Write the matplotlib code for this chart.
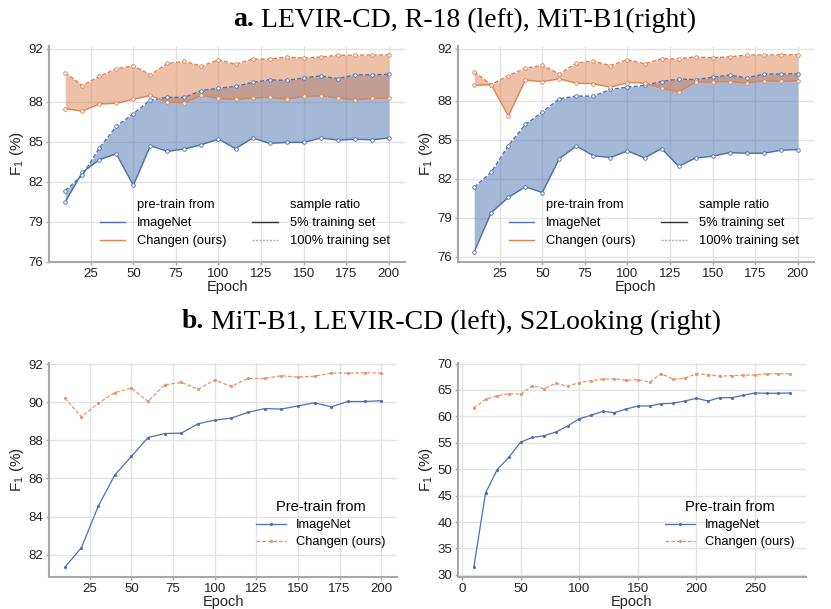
import matplotlib
matplotlib.use("Agg")
import matplotlib.pyplot as plt
from matplotlib.lines import Line2D
import numpy as np

# ---------------- data ----------------
epochs_levir = list(range(10, 201, 10))
epochs_s2 = list(range(10, 281, 10))

# a-left: LEVIR-CD, R-18
al_imagenet_5 = [80.5, 82.72, 83.67, 84.12, 81.75, 84.72, 84.3, 84.48, 84.8, 85.22,
                 84.5, 85.3, 84.9, 84.97, 84.97, 85.3, 85.15, 85.2, 85.17, 85.3]
al_imagenet_100 = [81.35, 82.5, 84.53, 86.17, 87.12, 88.15, 88.35, 88.35, 88.86, 89.04,
                   89.17, 89.47, 89.66, 89.62, 89.8, 89.96, 89.75, 90.04, 90.04, 90.08]
al_changen_5 = [87.5, 87.32, 87.85, 87.9, 88.2, 88.5, 88.0, 87.95, 88.5, 88.27,
                88.2, 88.3, 88.35, 88.22, 88.42, 88.47, 88.3, 88.17, 88.27, 88.3]
al_changen_100 = [90.21, 89.23, 89.92, 90.49, 90.71, 90.05, 90.89, 91.04, 90.69, 91.15,
                  90.83, 91.22, 91.21, 91.37, 91.29, 91.37, 91.51, 91.51, 91.53, 91.53]

# a-right: LEVIR-CD, MiT-B1
ar_imagenet_5 = [76.38, 79.4, 80.56, 81.38, 80.94, 83.55, 84.52, 83.76, 83.63, 84.14,
                 83.6, 84.32, 82.96, 83.6, 83.73, 84.01, 83.96, 83.96, 84.19, 84.24]
ar_imagenet_100 = al_imagenet_100
ar_changen_5 = [89.18, 89.23, 86.83, 89.57, 89.47, 89.67, 89.34, 89.31, 89.03, 89.39,
                89.36, 88.95, 88.67, 89.41, 89.44, 89.47, 89.36, 89.54, 89.49, 89.54]
ar_changen_100 = al_changen_100

# b-left: MiT-B1, LEVIR-CD (100%)
bl_imagenet = [81.34, 82.37, 84.53, 86.18, 87.16, 88.15, 88.36, 88.38, 88.87, 89.06,
               89.17, 89.47, 89.67, 89.64, 89.81, 89.97, 89.76, 90.04, 90.04, 90.08]
bl_changen = [90.22, 89.24, 89.94, 90.51, 90.74, 90.04, 90.92, 91.04, 90.69, 91.16,
              90.83, 91.25, 91.25, 91.39, 91.32, 91.37, 91.53, 91.53, 91.55, 91.53]

# b-right: MiT-B1, S2Looking
br_imagenet = [31.46, 45.5, 49.94, 52.28, 55.13, 56.01, 56.33, 57.03, 58.16, 59.56,
               60.19, 60.95, 60.7, 61.39, 61.96, 61.96, 62.41, 62.47, 62.91, 63.42,
               62.91, 63.54, 63.54, 63.99, 64.43, 64.37, 64.37, 64.43]
br_changen = [61.58, 63.23, 63.92, 64.3, 64.18, 65.82, 65.25, 66.27, 65.7, 66.39,
              66.71, 67.09, 67.09, 66.84, 66.96, 66.46, 68.1, 67.03, 67.22, 68.04,
              67.91, 67.6, 67.72, 67.78, 67.85, 68.04, 68.1, 68.04]

top_yticks = [76, 79, 82, 85, 88, 92]
top_xticks = [25, 50, 75, 100, 125, 150, 175, 200]
bl_yticks = [82, 84, 86, 88, 90, 92]
br_yticks = [30, 35, 40, 45, 50, 55, 60, 65, 70]
br_xticks = [0, 50, 100, 150, 200, 250]

series_names = ["ImageNet", "Changen (ours)"]
ratio_names = ["5% training set", "100% training set"]

# ---------------- style ----------------
BLUE = "#4c72b0"
ORANGE = "#dd8452"
plt.rcParams["font.family"] = ["Liberation Sans", "DejaVu Sans"]
plt.rcParams["mathtext.default"] = "regular"

fig = plt.figure(figsize=(8.31, 6.09), dpi=100)

W, H = 831.0, 609.0
def add_ax(l, t, r, b):
    return fig.add_axes([l / W, 1 - b / H, (r - l) / W, (b - t) / H])

ax_tl = add_ax(49, 46, 405, 262)
ax_tr = add_ax(458, 46, 814, 262)
ax_bl = add_ax(49, 363, 397, 577)
ax_br = add_ax(458, 363, 806, 577)


def style_ax(ax):
    ax.set_facecolor("white")
    ax.grid(True, color="#e3e3e3", lw=1.0)
    ax.set_axisbelow(True)
    for s in ["top", "right"]:
        ax.spines[s].set_visible(False)
    for s in ["left", "bottom"]:
        ax.spines[s].set_color("#a8a8a8")
        ax.spines[s].set_linewidth(1.5)
    ax.tick_params(axis="both", labelsize=9.5, colors="#a8a8a8", labelcolor="#222222",
                   length=2.5, width=1, pad=1.5)
    ax.set_xlabel("Epoch", fontsize=10.5, color="#222222", labelpad=0)
    ax.set_ylabel("F$_1$ (%)", fontsize=11, color="#222222", labelpad=2)


def top_panel(ax, im5, im100, ch5, ch100):
    x = np.array(epochs_levir)
    ax.fill_between(x, im5, im100, color=BLUE, alpha=0.5, lw=0)
    ax.fill_between(x, ch5, ch100, color=ORANGE, alpha=0.5, lw=0)
    for y, c, ls in [(im5, BLUE, "-"), (im100, BLUE, (0, (3, 1.5))),
                     (ch5, ORANGE, "-"), (ch100, ORANGE, (0, (3, 1.5)))]:
        ax.plot(x, y, color=c, lw=1.0, ls=ls, marker="o", ms=2.6,
                mfc="#f4f4f4", mec=c, mew=0.6)
    style_ax(ax)
    ax.set_xlim(0.5, 209.5)
    ax.set_xticks(top_xticks)
    ax.set_yticks(top_yticks)
    blank = Line2D([], [], color="none")
    handles = [blank,
               Line2D([], [], color=BLUE, lw=1.0),
               Line2D([], [], color=ORANGE, lw=1.0),
               blank,
               Line2D([], [], color="#333333", lw=1.0),
               Line2D([], [], color="#b0b0b0", lw=1.0, ls=(0, (1.5, 1)))]
    labels = ["pre-train from", series_names[0], series_names[1],
              "sample ratio", ratio_names[0], ratio_names[1]]
    ax.legend(handles, labels, ncol=2, loc="lower right", frameon=False,
              fontsize=9.3, handlelength=2.0, handletextpad=0.9,
              columnspacing=2.0, labelspacing=0.45,
              bbox_to_anchor=(0.99, 0.015))


top_panel(ax_tl, al_imagenet_5, al_imagenet_100, al_changen_5, al_changen_100)
ax_tl.set_ylim(76, 92.2)
top_panel(ax_tr, ar_imagenet_5, ar_imagenet_100, ar_changen_5, ar_changen_100)
ax_tr.set_ylim(75.6, 92.2)


def bottom_panel(ax, x, im, ch):
    ax.plot(x, im, color=BLUE, lw=0.9, ls="-", marker="o", ms=1.3, label=series_names[0])
    ax.plot(x, ch, color="#e8956a", lw=0.9, ls=(0, (3, 1.5)), marker="o", ms=1.3,
            label=series_names[1])
    style_ax(ax)
    ax.legend(loc="lower right", frameon=False, fontsize=9.3,
              title="Pre-train from", title_fontsize=10.5,
              handlelength=2.3, handletextpad=0.8, labelspacing=0.4,
              bbox_to_anchor=(1.0, 0.08))


bottom_panel(ax_bl, epochs_levir, bl_imagenet, bl_changen)
ax_bl.set_xticks(top_xticks)
ax_bl.set_yticks(bl_yticks)
bottom_panel(ax_br, epochs_s2, br_imagenet, br_changen)
ax_br.set_xticks(br_xticks)
ax_br.set_yticks(br_yticks)
ax_br.set_ylim(29.6, 70.1)

# ---------------- titles ----------------
renderer = fig.canvas.get_renderer()


def mixed_title(bold, rest, xc, yc, size):
    t1 = fig.text(0, yc, bold, fontsize=size, fontweight="bold",
                  family="Liberation Serif", va="center", ha="left")
    t2 = fig.text(0, yc, rest, fontsize=size, family="Liberation Serif",
                  va="center", ha="left")
    w1 = t1.get_window_extent(renderer).width / W
    w2 = t2.get_window_extent(renderer).width / W
    x0 = xc - (w1 + w2) / 2
    t1.set_x(x0)
    t2.set_x(x0 + w1)


mixed_title("a.", " LEVIR-CD, R-18 (left), MiT-B1(right)", 465 / W, 1 - 20 / H, 20)
mixed_title("b.", " MiT-B1, LEVIR-CD (left), S2Looking (right)", 451 / W, 1 - 322 / H, 20)

fig.savefig("out.png", dpi=100, facecolor="white")
